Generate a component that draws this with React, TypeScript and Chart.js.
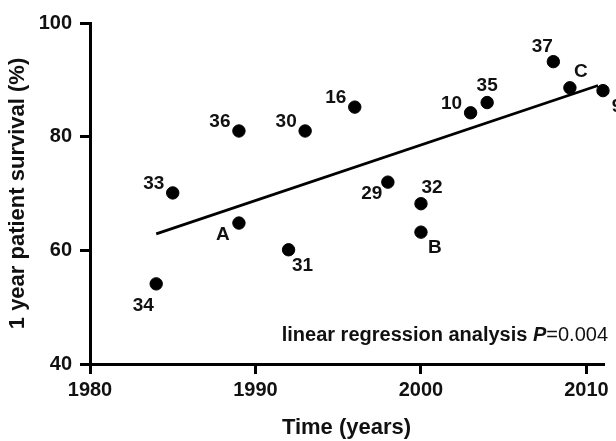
import React, { useEffect, useRef } from "react";
import { Chart, registerables } from "chart.js";

Chart.register(...registerables);

// ---- data ----
const pointLabels = ["34", "33", "A", "36", "31", "30", "16", "29", "32", "B", "10", "35", "37", "C", "9"];
const years = [1984, 1985, 1989, 1989, 1992, 1993, 1996, 1998, 2000, 2000, 2003, 2004, 2008, 2009, 2011];
const survival = [54.1, 70.1, 64.8, 81.0, 60.1, 81.0, 85.2, 72.0, 68.2, 63.2, 84.2, 86.0, 93.2, 88.6, 88.1];
const regressionYears = [1984, 2010.7];
const regressionValues = [62.9, 89.0];
const xTicks = [1980, 1990, 2000, 2010];
const yTicks = [40, 60, 80, 100];
// label placement keyword for each point (relative to its dot)
const labelPlacement = ["S", "W", "SW", "W", "SE", "W", "W", "SW", "NE", "SE", "W", "N", "NNW", "NE", "SE"];

const FONT = "'Liberation Sans', Arial, Helvetica, sans-serif";

const OFFSETS: Record<string, [number, number]> = {
  W: [-19, -9],
  SW: [-16, 12],
  S: [-13, 22],
  SE: [14, 16],
  NE: [11, -16],
  N: [0, -17],
  NNW: [-11, -15],
};

const labelPlugin = {
  id: "pointLabelsAndNote",
  afterDatasetsDraw(chart: any) {
    const ctx = chart.ctx;
    const meta = chart.getDatasetMeta(1);
    ctx.save();
    ctx.fillStyle = "#111";
    ctx.font = `bold 19px ${FONT}`;
    ctx.textAlign = "center";
    ctx.textBaseline = "middle";
    meta.data.forEach((el: any, i: number) => {
      const [dx, dy] = OFFSETS[labelPlacement[i]];
      ctx.fillText(pointLabels[i], el.x + dx, el.y + dy);
    });

    // annotation
    const area = chart.chartArea;
    const right = area.right + 5;
    const baseY = area.bottom - 23;
    ctx.textAlign = "left";
    ctx.textBaseline = "alphabetic";
    const partA = "linear regression analysis ";
    const partP = "P";
    const partB = "=0.004";
    ctx.font = `20px ${FONT}`;
    const wB = ctx.measureText(partB).width;
    ctx.font = `italic bold 20px ${FONT}`;
    const wP = ctx.measureText(partP).width;
    ctx.font = `bold 20px ${FONT}`;
    const wA = ctx.measureText(partA).width;
    let x = right - wA - wP - wB;
    ctx.fillText(partA, x, baseY);
    x += wA;
    ctx.font = `italic bold 20px ${FONT}`;
    ctx.fillText(partP, x, baseY);
    x += wP;
    ctx.font = `20px ${FONT}`;
    ctx.fillText(partB, x, baseY);
    ctx.restore();
  },
};

const bgPlugin = {
  id: "whiteBg",
  beforeDraw(chart: any) {
    const ctx = chart.ctx;
    ctx.save();
    ctx.fillStyle = "#ffffff";
    ctx.fillRect(0, 0, chart.width, chart.height);
    ctx.restore();
  },
};

export default function App() {
  const ref = useRef<HTMLCanvasElement>(null);
  useEffect(() => {
    document.body.style.margin = "0";
    const canvas = ref.current!;
    const chart = new Chart(canvas, {
      type: "scatter",
      data: {
        datasets: [
          {
            type: "line",
            data: regressionYears.map((x, i) => ({ x, y: regressionValues[i] })),
            borderColor: "#000",
            borderWidth: 2.8,
            pointRadius: 0,
            fill: false,
            clip: false as any,
          },
          {
            type: "scatter",
            data: years.map((x, i) => ({ x, y: survival[i] })),
            backgroundColor: "#000",
            borderColor: "#000",
            pointRadius: 6.2,
            pointHoverRadius: 6.2,
            clip: false as any,
          },
        ],
      },
      options: {
        animation: false,
        responsive: false,
        events: [],
        layout: { padding: { top: 23, right: 13, left: 0, bottom: 0 } },
        plugins: {
          legend: { display: false },
          tooltip: { enabled: false },
        },
        scales: {
          x: {
            type: "linear",
            min: 1980,
            max: 2011,
            afterBuildTicks: (s: any) => {
              s.ticks = xTicks.map((v) => ({ value: v }));
            },
            afterFit: (s: any) => {
              s.height = 77;
            },
            grid: { drawOnChartArea: false, drawTicks: true, tickLength: 10, color: "#000", lineWidth: 3 },
            border: { display: true, color: "#000", width: 3 },
            ticks: {
              color: "#111",
              padding: 4,
              font: { family: FONT, size: 20, weight: "bold" },
              callback: (v: any) => String(v),
            },
            title: {
              display: true,
              text: "Time (years)",
              color: "#111",
              font: { family: FONT, size: 22, weight: "bold" },
              padding: { top: 0, bottom: 0 },
            },
          },
          y: {
            type: "linear",
            min: 40,
            max: 100,
            afterBuildTicks: (s: any) => {
              s.ticks = yTicks.map((v) => ({ value: v }));
            },
            afterFit: (s: any) => {
              s.width = 90;
            },
            grid: { drawOnChartArea: false, drawTicks: true, tickLength: 10, color: "#000", lineWidth: 3 },
            border: { display: true, color: "#000", width: 3 },
            ticks: {
              color: "#111",
              padding: 8,
              font: { family: FONT, size: 20, weight: "bold" },
            },
            title: {
              display: true,
              text: "1 year patient survival (%)",
              color: "#111",
              font: { family: FONT, size: 22, weight: "bold" },
              padding: { top: 5, bottom: 0 },
            },
          },
        },
      },
      plugins: [bgPlugin, labelPlugin],
    } as any);
    return () => chart.destroy();
  }, []);
  return <canvas ref={ref} width={616} height={441} style={{ display: "block", width: 616, height: 441 }} />;
}
